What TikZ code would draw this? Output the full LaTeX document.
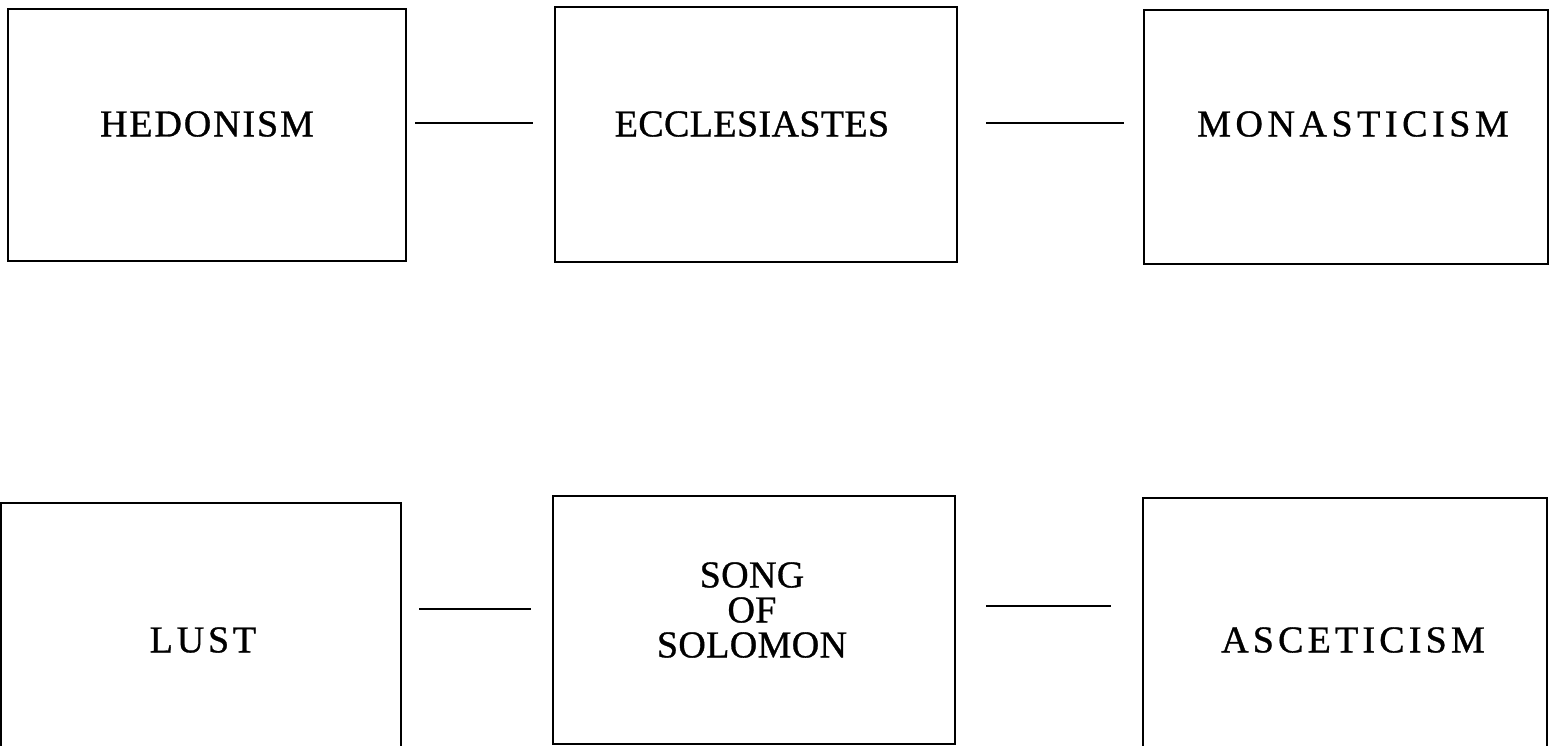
\documentclass[tikz,border=0pt]{standalone}
\usepackage{fontspec}
\setmainfont{Liberation Serif}
\newfontfamily\labelfont[FakeBold=0.8]{Liberation Serif}
\begin{document}
\begin{tikzpicture}[x=1pt,y=-1pt,
  box/.style={draw=black, line width=2.8pt, inner sep=0pt},
  word/.style={align=center, inner sep=0pt, track=3},
  track/.style={font=\labelfont\fontsize{38}{35}\selectfont\addfontfeature{LetterSpace=#1}},
  link/.style={draw=black, line width=2.4pt}]
\useasboundingbox (0,0) rectangle (1551,746);

% upper row of boxes
\node[box, minimum width=398pt, minimum height=252pt] (hed) at (207,135) {};
\node[box, minimum width=402pt, minimum height=255pt] (ecc) at (756,134.5) {};
\node[box, minimum width=404pt, minimum height=254pt] (mon) at (1346,137) {};

% lower row of boxes (running past the bottom edge)
\node[box, minimum width=400pt, minimum height=260pt] (lus) at (201,633) {};
\node[box, minimum width=402pt, minimum height=248pt] (sos) at (754,620) {};
\node[box, minimum width=404pt, minimum height=260pt] (asc) at (1345,628) {};

% labels
\node[word, track=5] (thed) at (207,124) {HEDONISM};
\node[word, track=1] (tecc) at (752,124) {ECCLESIASTES};
\node[word, track=12] (tmon) at (1353,124) {MONASTICISM};
\node[word, track=10] (tlus) at (203,640) {LUST};
\node[word, track=1] (tsos) at (752,610) {SONG\\OF\\SOLOMON};
\node[word, track=11] (tasc) at (1353,640) {ASCETICISM};

% connecting rules
\coordinate (ytop) at (0,123);
\coordinate (ybl) at (0,609);
\coordinate (ybr) at (0,606);
\draw[link] ([xshift=8pt]hed.east |- ytop) -- ([xshift=-21pt]ecc.west |- ytop);
\draw[link] ([xshift=28pt]ecc.east |- ytop) -- ([xshift=-19pt]mon.west |- ytop);
\draw[link] ([xshift=17pt]lus.east |- ybl) -- ([xshift=-21pt]sos.west |- ybl);
\draw[link] ([xshift=30pt]sos.east |- ybr) -- ([xshift=-31pt]asc.west |- ybr);
\end{tikzpicture}
\end{document}
